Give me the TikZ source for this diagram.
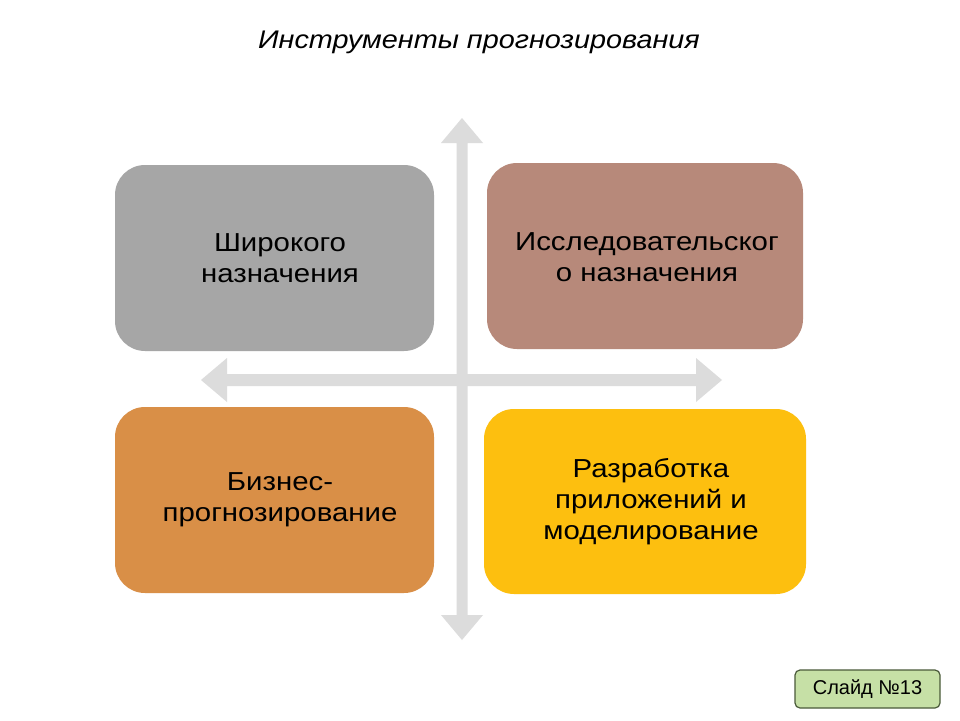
\documentclass[tikz,border=0pt]{standalone}
\usepackage{fontspec}
\setmainfont{Liberation Sans}
\newfontfamily\widefont[FakeStretch=1.13]{Liberation Sans}
\begin{document}
\begin{tikzpicture}[x=1pt,y=-1pt,
  quad/.style={rounded corners=30pt},
  lbl/.style={font=\widefont\fontsize{26}{31}\selectfont, align=center, text=black},
  axis/.style={fill=arrowgray, draw=none}]
\definecolor{arrowgray}{HTML}{DCDCDC}
\definecolor{cgray}{HTML}{A6A6A6}
\definecolor{cbrown}{HTML}{B7897A}
\definecolor{corange}{HTML}{D98F47}
\definecolor{cyellow}{HTML}{FDBF0F}
\definecolor{cgreen}{HTML}{C6E0A6}
\definecolor{cgreenb}{HTML}{4A5A3A}
\useasboundingbox[fill=white] (0,0) rectangle (960,720);
% title
\node (title) at (479,42) {\widefont\fontsize{25.5}{30}\selectfont\itshape Инструменты прогнозирования};
% axes (double arrows)
\fill[axis] (462,118) -- (483,143) -- (467.5,143) -- (467.5,615) -- (483,615) -- (462,640)
  -- (441,615) -- (456.5,615) -- (456.5,143) -- (441,143) -- cycle;
\fill[axis] (201,380) -- (227,358) -- (227,374) -- (696,374) -- (696,358) -- (722,380)
  -- (696,402) -- (696,386) -- (227,386) -- (227,402) -- cycle;
% boxes
\fill[quad, cgray] (115,165) rectangle (434,351);
\fill[quad, cbrown] (487,163) rectangle (803,349);
\fill[quad, corange] (115,407) rectangle (434,593);
\fill[quad, cyellow] (484,409) rectangle (806,594);
\node[lbl] (a) at (280,258) {Широкого\\назначения};
\node[lbl] (b) at (647,257) {Исследовательског\\о назначения};
\node[lbl] (c) at (280,500) {Бизнес-\\прогнозирование};
\node[lbl] (d) at (651,502) {Разработка\\приложений и\\моделирование};
% slide label
\node[draw=cgreenb, fill=cgreen, line width=1.2pt, rounded corners=5pt,
  minimum width=145pt, minimum height=38pt, font=\fontsize{20}{24}\selectfont] (slide) at (867.5,689) {Слайд №13};
\end{tikzpicture}
\end{document}
